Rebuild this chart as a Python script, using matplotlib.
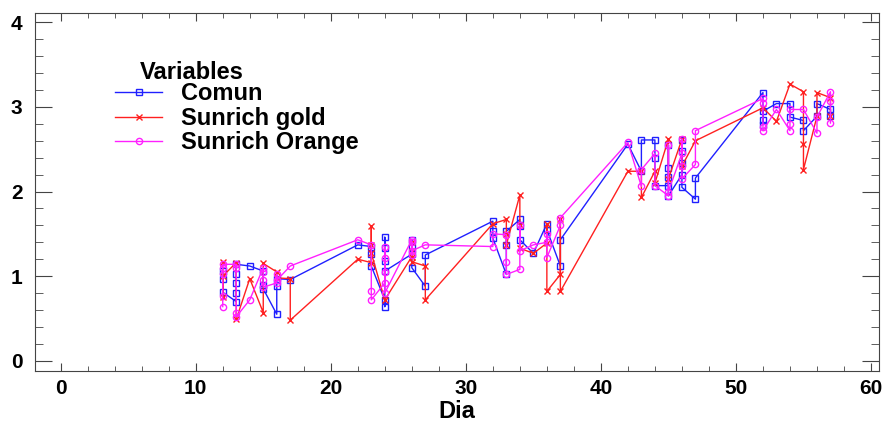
import numpy as np
import matplotlib.pyplot as plt
from matplotlib.ticker import MultipleLocator

plt.rcParams['font.family'] = ['Liberation Sans', 'DejaVu Sans']
plt.rcParams['font.weight'] = 'bold'

# days with samples (same for the three varieties)
dias = [12, 13, 14, 15, 16, 17, 22, 23, 24, 26, 27, 32, 33, 34, 35, 36, 37,
        42, 43, 44, 45, 46, 47, 52, 53, 54, 55, 56, 57]

# Comun - replicate values per day, in the order they were measured
comun = [[1.06, 0.97, 0.81], [0.70, 0.80, 0.92, 1.02, 1.14], [1.12],
         [1.06, 0.90, 0.85], [0.55, 0.88, 0.97], [0.96],
         [1.37], [1.35, 1.26, 1.12], [0.72, 0.64, 1.46, 1.33, 1.18, 1.06],
         [1.26, 1.43, 1.35, 1.10], [0.88, 1.25],
         [1.65, 1.53, 1.45], [1.02, 1.37, 1.53], [1.67, 1.59, 1.43], [1.27],
         [1.62, 1.55], [1.12, 1.43],
         [2.56], [2.24, 2.61], [2.61, 2.40, 2.07], [2.07, 2.55, 2.28, 2.17, 1.95],
         [2.20, 2.61, 2.48, 2.34, 2.05], [1.91, 2.16],
         [3.17, 2.79, 2.85, 2.95], [3.04], [3.04, 2.88], [2.84, 2.72],
         [2.89, 3.04], [2.97, 2.89]]

# Sunrich gold
gold = [[1.17, 0.75, 1.00], [1.16, 0.49], [0.97], [0.57, 1.15], [1.05, 0.98],
        [0.97, 0.48],
        [1.20], [1.16, 1.59, 1.37, 1.27], [0.72], [1.23, 1.40, 1.30, 1.17],
        [1.12, 0.72],
        [1.62], [1.67, 1.50, 1.37], [1.96, 1.60, 1.33], [1.27],
        [1.39, 1.62, 0.82], [1.02, 1.67, 0.82],
        [2.24], [2.24, 1.93], [2.24, 2.10], [2.62, 2.15], [2.62, 2.30], [2.60],
        [2.99], [2.83], [3.27], [3.18, 2.56, 2.26], [2.89, 3.17], [3.11, 2.89]]

# Sunrich Orange
orange = [[0.64, 0.76, 1.02, 1.10, 1.14], [1.14, 1.10, 0.56, 0.52], [0.72],
          [1.10, 1.05, 0.95, 0.87], [0.92, 1.02, 0.95], [1.12],
          [1.43], [1.37, 0.82, 0.72], [0.92, 1.35, 1.22, 1.05, 0.80],
          [1.43, 1.25, 1.40, 1.30], [1.37],
          [1.35, 1.50], [1.49, 1.17, 1.02], [1.08, 1.60, 1.30], [1.37],
          [1.40, 1.50, 1.22], [1.60, 1.69],
          [2.58], [2.06, 2.26], [2.45, 2.07], [1.95, 2.55, 2.00],
          [2.45, 2.62, 2.30, 2.15], [2.32, 2.72],
          [3.10, 3.05, 2.76, 2.72], [2.97], [2.72, 2.80, 2.97], [2.97],
          [2.69, 2.88], [3.18, 3.07, 2.81]]

series = [("Comun", comun, "#2020ff", "s"),
          ("Sunrich gold", gold, "#ff2020", "x"),
          ("Sunrich Orange", orange, "#ff20ff", "o")]

fig = plt.figure(figsize=(8.82, 4.21), dpi=100)
ax = fig.add_axes([0.0397, 0.119, 0.957, 0.850])

for name, vals, col, mk in series:
    x = np.repeat(dias, [len(v) for v in vals])
    y = np.concatenate(vals)
    ax.plot(x, y, color=col, lw=1.0, marker=mk, ms=4.5, mew=1.0,
            mfc='none', mec=col, label=name)

ax.set_xlim(-1.9, 60.6)
ax.set_ylim(-0.12, 4.11)
ax.xaxis.set_major_locator(MultipleLocator(10))
ax.xaxis.set_minor_locator(MultipleLocator(2))
ax.yaxis.set_major_locator(MultipleLocator(1))
ax.yaxis.set_minor_locator(MultipleLocator(0.2))
ax.tick_params(which='both', direction='in', top=True, right=True,
               colors='#444444', labelcolor='black', labelsize=15)
ax.tick_params(axis='y', which='major', length=12, pad=9)
ax.tick_params(axis='y', which='minor', length=6)
ax.tick_params(axis='x', which='major', length=6, pad=6)
ax.tick_params(axis='x', which='minor', length=3.5)
for s in ax.spines.values():
    s.set_color('#444444')

ax.set_xlabel("Dia", fontsize=17, fontweight='bold', labelpad=1)

leg = ax.legend(loc='upper left', bbox_to_anchor=(0.095, 0.806), frameon=False,
                fontsize=17, handlelength=2.0, handletextpad=0.8,
                labelspacing=0.06, borderpad=0, borderaxespad=0, numpoints=1)
ax.text(0.124, 0.835, "Variables", transform=ax.transAxes, fontsize=17,
        fontweight='bold', va='center', ha='left')

fig.savefig("out.png", dpi=100)
